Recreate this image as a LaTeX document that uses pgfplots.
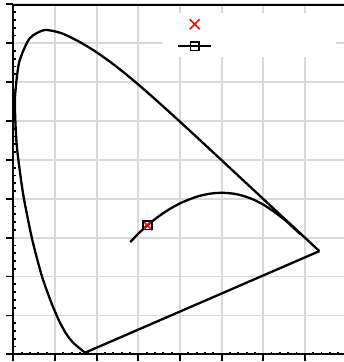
\documentclass[border=0pt]{standalone}
\usepackage{pgfplots}
\pgfplotsset{compat=1.18}

\begin{document}
\begin{tikzpicture}[x=1pt,y=1pt]
\begin{axis}[
    scale only axis,
    width=333.3pt, height=350pt,
    xmin=0, xmax=0.8, ymin=0, ymax=0.9,
    xtick={0,0.1,...,0.8}, ytick={0,0.1,...,0.9},
    xticklabels={}, yticklabels={},
    minor tick num=4,
    axis x line*=bottom, axis y line*=left,
    axis line style={line width=2pt, -},
    tick align=outside,
    major tick length=7pt, minor tick length=2.5pt,
    every tick/.style={black, line width=1.8pt},
    minor x tick style={yshift=2.5pt},
    minor y tick style={xshift=2.5pt},
    grid=major,
    major grid style={gray!30, line width=1.8pt},
    legend image code/.code={\draw[mark repeat=2,mark phase=2,#1] plot coordinates {(0pt,0pt) (16.5pt,0pt) (33pt,0pt)};},
    legend style={at={(rel axis cs:0.449,0.975)}, anchor=north west,
        draw=none, fill=white, inner xsep=14pt, inner ysep=0pt,
        row sep=0pt, column sep=0pt,
        nodes={inner sep=0pt, minimum height=22pt}},
    legend cell align=left,
]

% spectral locus 380-700 nm
\addplot[black, line width=2.3pt, smooth, tension=0.4, line join=round, forget plot] coordinates {
(0.1741,0.0050) (0.1740,0.0050) (0.1738,0.0049) (0.1736,0.0049) (0.1733,0.0048)
(0.1730,0.0048) (0.1726,0.0048) (0.1721,0.0048) (0.1714,0.0051) (0.1703,0.0058)
(0.1689,0.0069) (0.1669,0.0086) (0.1644,0.0109) (0.1611,0.0138) (0.1566,0.0177)
(0.1510,0.0227) (0.1440,0.0297) (0.1355,0.0399) (0.1241,0.0578) (0.1096,0.0868)
(0.0913,0.1327) (0.0687,0.2007) (0.0454,0.2950) (0.0235,0.4127) (0.0082,0.5384)
(0.0039,0.6548) (0.0139,0.7502) (0.0389,0.8120) (0.0743,0.8338) (0.1142,0.8262)
(0.1547,0.8059) (0.1929,0.7816) (0.2296,0.7543) (0.2658,0.7243) (0.3016,0.6923)
(0.3373,0.6589) (0.3731,0.6245) (0.4087,0.5896) (0.4441,0.5547) (0.4788,0.5202)
(0.5125,0.4866) (0.5448,0.4544) (0.5752,0.4242) (0.6029,0.3965) (0.6270,0.3725)
(0.6482,0.3514) (0.6658,0.3340) (0.6801,0.3197) (0.6915,0.3083) (0.7006,0.2993)
(0.7079,0.2920) (0.7140,0.2859) (0.7190,0.2809) (0.7230,0.2770) (0.7260,0.2740)
(0.7283,0.2717) (0.7300,0.2700) (0.7311,0.2689) (0.7320,0.2680) (0.7334,0.2666)
(0.7347,0.2653)
};
% line of purples
\addplot[black, line width=2.3pt, forget plot] coordinates {(0.7347,0.2653) (0.1741,0.0050)};

% white point
\addplot[red, only marks, mark=x, mark size=7pt, mark options={line width=1.6pt}] coordinates {(0.3216,0.3320)};
\addlegendentry{\hspace*{110pt}}

% Planckian locus
\addplot[black, line width=2.3pt, smooth, mark=square, mark indices={19},
    mark size=4.2pt, mark options={line width=1.7pt, fill=none},
    legend image post style={mark indices={2}}] coordinates {
(0.6900,0.3080) (0.6720,0.3260) (0.6528,0.3444) (0.6250,0.3674) (0.5985,0.3858)
(0.5732,0.3993) (0.5493,0.4082) (0.5267,0.4133) (0.5056,0.4152) (0.4862,0.4147)
(0.4682,0.4123) (0.4519,0.4086) (0.4369,0.4041) (0.4053,0.3907) (0.3805,0.3768)
(0.3608,0.3636) (0.3451,0.3516) (0.3325,0.3411) (0.3221,0.3318) (0.3135,0.3237)
(0.3064,0.3166) (0.2952,0.3048) (0.2869,0.2956) (0.2807,0.2884)
};
\addlegendentry{\hspace*{110pt}}

\draw[line width=2.6pt] ([xshift=-10pt]rel axis cs:0,1) -- (rel axis cs:1,1);
\end{axis}
\pgfresetboundingbox
\path[use as bounding box] (-13.3pt,-7.7pt) rectangle (330.7pt,354.3pt);
\end{tikzpicture}
\end{document}
